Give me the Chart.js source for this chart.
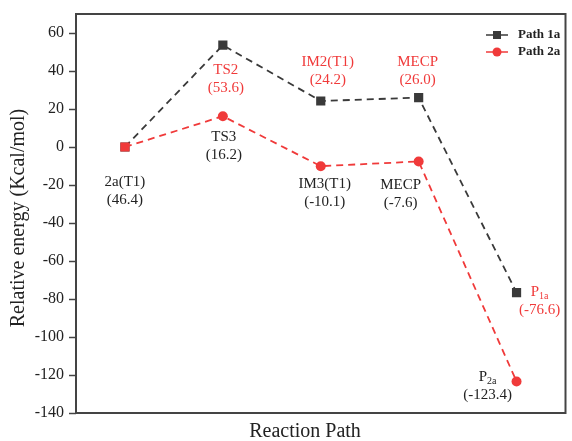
<!DOCTYPE html>
<html lang="en">
<head>
    <meta charset="UTF-8">
    <title>Relative energy</title>
    <script src="https://cdn.jsdelivr.net/npm/chart.js"></script>
    <style>
        html, body { margin: 0; padding: 0; background: #fff; }
        .chart-container { position: relative; width: 572px; height: 441px; }
    </style>
</head>
<body>
<div class="chart-container">
    <canvas id="energyChart"></canvas>
</div>

<script>
    // data
    const steps = ['2a(T1)', 'TS', 'IM', 'MECP', 'P'];
    const path1a = [0, 53.6, 24.2, 26.0, -76.6];
    const path2a = [0, 16.2, -10.1, -7.6, -123.4];
    const yTicks = [60, 40, 20, 0, -20, -40, -60, -80, -100, -120, -140];

    const BLACK = '#3a3a3a';
    const RED = '#f03a3a';
    const SERIF = '"Liberation Serif", "Times New Roman", serif';

    // point labels: dataset, point index, text lines, colour, offset in px
    const notes = [
        { ds: 0, i: 0, lines: ['2a(T1)', '(46.4)'], color: '#222', dx: 0, dy: 35 },
        { ds: 0, i: 1, lines: ['TS2', '(53.6)'], color: RED, dx: 3, dy: 25 },
        { ds: 1, i: 1, lines: ['TS3', '(16.2)'], color: '#222', dx: 1, dy: 21 },
        { ds: 0, i: 2, lines: ['IM2(T1)', '(24.2)'], color: RED, dx: 7, dy: -39 },
        { ds: 1, i: 2, lines: ['IM3(T1)', '(-10.1)'], color: '#222', dx: 4, dy: 18 },
        { ds: 0, i: 3, lines: ['MECP', '(26.0)'], color: RED, dx: -1, dy: -36 },
        { ds: 1, i: 3, lines: ['MECP', '(-7.6)'], color: '#222', dx: -18, dy: 24 },
        { ds: 0, i: 4, lines: [['P', '1a'], '(-76.6)'], color: RED, dx: 23, dy: 0 },
        { ds: 1, i: 4, lines: [['P', '2a'], '(-123.4)'], color: '#222', dx: -29, dy: -4 }
    ];

    function drawLine(ctx, line, x, y) {
        if (typeof line === 'string') {
            ctx.font = '15px ' + SERIF;
            ctx.textAlign = 'center';
            ctx.fillText(line, x, y);
            return;
        }
        // main letter + subscript
        ctx.font = '15px ' + SERIF;
        const w1 = ctx.measureText(line[0]).width;
        ctx.font = '10px ' + SERIF;
        const w2 = ctx.measureText(line[1]).width;
        const left = x - (w1 + w2) / 2;
        ctx.textAlign = 'left';
        ctx.font = '15px ' + SERIF;
        ctx.fillText(line[0], left, y);
        ctx.font = '10px ' + SERIF;
        ctx.fillText(line[1], left + w1, y + 4);
    }

    const decorations = {
        id: 'decorations',
        afterDraw(chart) {
            const ctx = chart.ctx;
            const area = chart.chartArea;
            const yScale = chart.scales.y;
            ctx.save();

            // frame
            ctx.strokeStyle = '#444';
            ctx.lineWidth = 2;
            ctx.strokeRect(area.left, area.top, area.right - area.left, area.bottom - area.top);

            // major / minor ticks on the y axis
            ctx.lineWidth = 1.5;
            yScale.ticks.forEach(t => {
                const py = Math.round(yScale.getPixelForValue(t.value)) + 0.5;
                const len = yTicks.includes(t.value) ? 7 : 4;
                ctx.beginPath();
                ctx.moveTo(area.left - len, py);
                ctx.lineTo(area.left, py);
                ctx.stroke();
            });

            // axis titles
            ctx.fillStyle = '#222';
            ctx.textBaseline = 'middle';
            ctx.textAlign = 'center';
            ctx.font = '20px ' + SERIF;
            ctx.fillText('Reaction Path', 305, 432);
            ctx.save();
            ctx.translate(19, 218);
            ctx.rotate(-Math.PI / 2);
            ctx.fillText('Relative energy (Kcal/mol)', 0, 0);
            ctx.restore();

            // point labels
            notes.forEach(n => {
                const el = chart.getDatasetMeta(n.ds).data[n.i];
                ctx.fillStyle = n.color;
                n.lines.forEach((line, k) => {
                    drawLine(ctx, line, el.x + n.dx, el.y + n.dy + k * 18);
                });
            });

            // legend
            const items = [
                { label: 'Path 1a', color: BLACK, style: 'square', y: 35 },
                { label: 'Path 2a', color: RED, style: 'circle', y: 52 }
            ];
            items.forEach(it => {
                ctx.strokeStyle = it.color;
                ctx.fillStyle = it.color;
                ctx.lineWidth = 1.5;
                ctx.beginPath();
                ctx.moveTo(486, it.y);
                ctx.lineTo(508, it.y);
                ctx.stroke();
                ctx.beginPath();
                if (it.style === 'square') {
                    ctx.rect(493, it.y - 4, 8, 8);
                } else {
                    ctx.arc(497, it.y, 4.5, 0, Math.PI * 2);
                }
                ctx.fill();
                ctx.fillStyle = '#222';
                ctx.font = 'bold 13px ' + SERIF;
                ctx.textAlign = 'left';
                ctx.fillText(it.label, 518, it.y);
            });

            ctx.restore();
        }
    };

    new Chart(document.getElementById('energyChart').getContext('2d'), {
        type: 'line',
        data: {
            labels: steps,
            datasets: [{
                label: 'Path 1a',
                data: path1a,
                order: 1,
                borderColor: BLACK,
                backgroundColor: BLACK,
                borderWidth: 1.8,
                borderDash: [7, 5],
                pointStyle: 'rect',
                pointRadius: 6.5,
                pointBorderWidth: 0,
                tension: 0
            }, {
                label: 'Path 2a',
                data: path2a,
                order: 0,
                borderColor: RED,
                backgroundColor: RED,
                borderWidth: 1.8,
                borderDash: [7, 5],
                pointStyle: ['rect', 'circle', 'circle', 'circle', 'circle'],
                pointRadius: [6.5, 5, 5, 5, 5],
                pointBorderWidth: 0,
                tension: 0
            }]
        },
        options: {
            responsive: true,
            maintainAspectRatio: false,
            animation: false,
            layout: { padding: { top: 14, right: 4, left: 0, bottom: 0 } },
            plugins: {
                legend: { display: false },
                tooltip: { enabled: false }
            },
            scales: {
                x: {
                    type: 'category',
                    offset: true,
                    grid: { display: false, drawTicks: false },
                    border: { display: false },
                    ticks: { display: false },
                    afterFit(scale) { scale.height = 28; }
                },
                y: {
                    min: -140,
                    max: 70,
                    grid: { drawOnChartArea: false, tickLength: 8, tickColor: 'transparent' },
                    border: { display: false },
                    ticks: {
                        stepSize: 10,
                        padding: 4,
                        color: '#222',
                        font: { family: SERIF, size: 16 },
                        callback: v => yTicks.includes(v) ? String(v) : ''
                    },
                    afterFit(scale) { scale.width = 76; }
                }
            }
        },
        plugins: [decorations]
    });
</script>
</body>
</html>
